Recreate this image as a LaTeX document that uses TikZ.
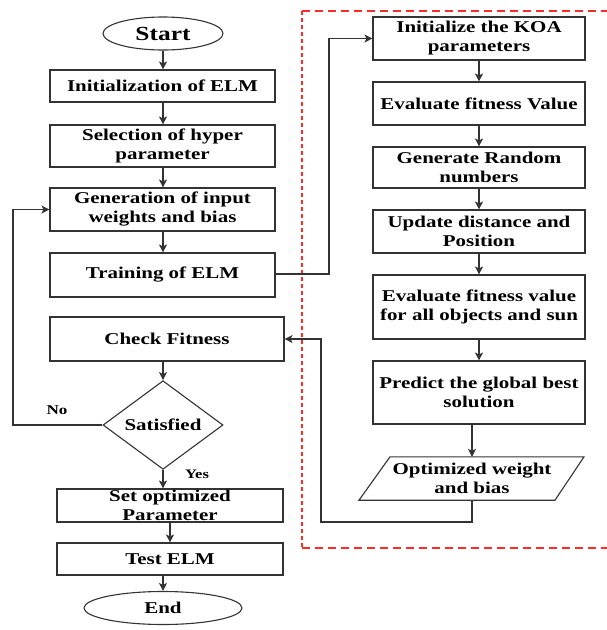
\documentclass[tikz,border=0pt]{standalone}
\usepackage{fontspec}
\setmainfont{Liberation Serif}[FakeStretch=1.27]
\usetikzlibrary{shapes.geometric,arrows.meta,calc}
\definecolor{lc}{HTML}{333333}
\definecolor{rd}{HTML}{FF2A2A}
\begin{document}
\begin{tikzpicture}[x=1pt,y=-1pt,
  txt/.style={font=\bfseries\fontsize{16.5}{19}\selectfont, align=center, inner sep=0pt},
  box/.style={txt, draw=lc, line width=1.1pt, rectangle},
  lbox/.style={box, minimum width=225pt},
  rbox/.style={box, minimum width=212pt},
  term/.style={txt, draw=lc, line width=1.1pt, ellipse, minimum height=33pt},
  arr/.style={draw=lc, line width=1.1pt, -{Stealth[length=8pt,width=8pt,inset=2pt]}},
  ln/.style={draw=lc, line width=1.1pt},
  lab/.style={font=\bfseries\fontsize{13.5}{15}\selectfont, inner sep=0pt}
]
\useasboundingbox (0,0) rectangle (606,630);

% left column
\node[term, minimum width=120pt, font=\bfseries\fontsize{20}{22}\selectfont] (start) at (163,33.5) {Start};
\node[lbox, minimum height=32pt] (init) at (162.5,86) {Initialization of ELM};
\node[lbox, minimum height=42pt] (sel) at (162.5,146) {Selection of hyper\\parameter};
\node[lbox, minimum height=43pt] (gen) at (162.5,209.5) {Generation of input\\weights and bias};
\node[lbox, minimum height=44pt] (train) at (162.5,275) {Training of ELM};
\node[box, minimum width=234pt, minimum height=44pt] (check) at (167,339) {Check Fitness};
\node[txt, draw=lc, line width=1.1pt, diamond, minimum width=120pt, minimum height=84pt] (dia) at (163,425) {Satisfied};
\node[box, minimum width=226pt, minimum height=33pt] (set) at (170,505.5) {Set optimized\\Parameter};
\node[box, minimum width=226pt, minimum height=32pt] (test) at (170,559) {Test ELM};
\node[term, minimum width=158pt] (end) at (163,608) {End};

\node[lab] (no) at (57,410) {No};
\node[lab, font=\bfseries\fontsize{13}{15}\selectfont] (yes) at (197,474) {Yes};

% right column
\node[rbox, minimum height=43pt] (koa) at (479,38.5) {Initialize the KOA\\parameters};
\node[rbox, minimum height=43pt] (ev1) at (479,103.5) {Evaluate fitness Value};
\node[rbox, minimum height=41pt] (rnd) at (479,167.5) {Generate Random\\numbers};
\node[rbox, minimum height=43pt] (upd) at (479,231.5) {Update distance and\\Position};
\node[rbox, minimum height=64pt] (evall) at (479,307) {Evaluate fitness value\\for all objects and sun};
\node[rbox, minimum height=63pt] (pred) at (479,392.5) {Predict the global best\\solution};
\node[txt, minimum width=160pt, minimum height=43pt] (opt) at (472,478.5) {Optimized weight\\and bias};
\draw[ln] ([xshift=-82pt]opt.north) -- ([xshift=112pt]opt.north) -- ([xshift=83pt]opt.south) -- ([xshift=-113pt]opt.south) -- cycle;

% red dashed frame
\draw[rd, line width=2pt, dash pattern=on 8pt off 5pt] (302,11) -- (612,11);
\draw[rd, line width=2pt, dash pattern=on 8pt off 5pt] (302,548) -- (612,548);
\draw[rd, line width=2pt, dash pattern=on 4pt off 3pt] (302,11) -- (302,548);

% connectors left
\draw[arr] (start.south) -- (start.south |- init.north);
\draw[arr] (init.south) ++(0.5,0) -- ($(sel.north)+(0.5,0)$);
\draw[arr] (sel.south) ++(0.5,0) -- ($(gen.north)+(0.5,0)$);
\draw[arr] (gen.south) ++(0.5,0) -- ($(train.north)+(0.5,0)$);
\draw[arr] (dia.north |- check.south) -- (dia.north);
\draw[arr] (dia.south) -- (dia.south |- set.north);
\draw[arr] (set.south) -- (test.north);
\draw[arr] (end.north |- test.south) -- (end.north);
\coordinate (nb) at (13,425);
\draw[arr] (dia.west) -- (nb) |- (gen.west);

% connectors right
\coordinate (tr) at (329,274);
\draw[arr] (train.east |- tr) -- (tr) |- (koa.west);
\draw[arr] (koa) -- (ev1);
\draw[arr] (ev1) -- (rnd);
\draw[arr] (rnd) -- (upd);
\draw[arr] (upd) -- (evall);
\draw[arr] (evall) -- (pred);
\draw[arr] (opt.north |- pred.south) -- (opt.north);
\coordinate (fb) at (321,522);
\draw[arr] (opt.south) |- (fb) |- (check.east);
\end{tikzpicture}
\end{document}
